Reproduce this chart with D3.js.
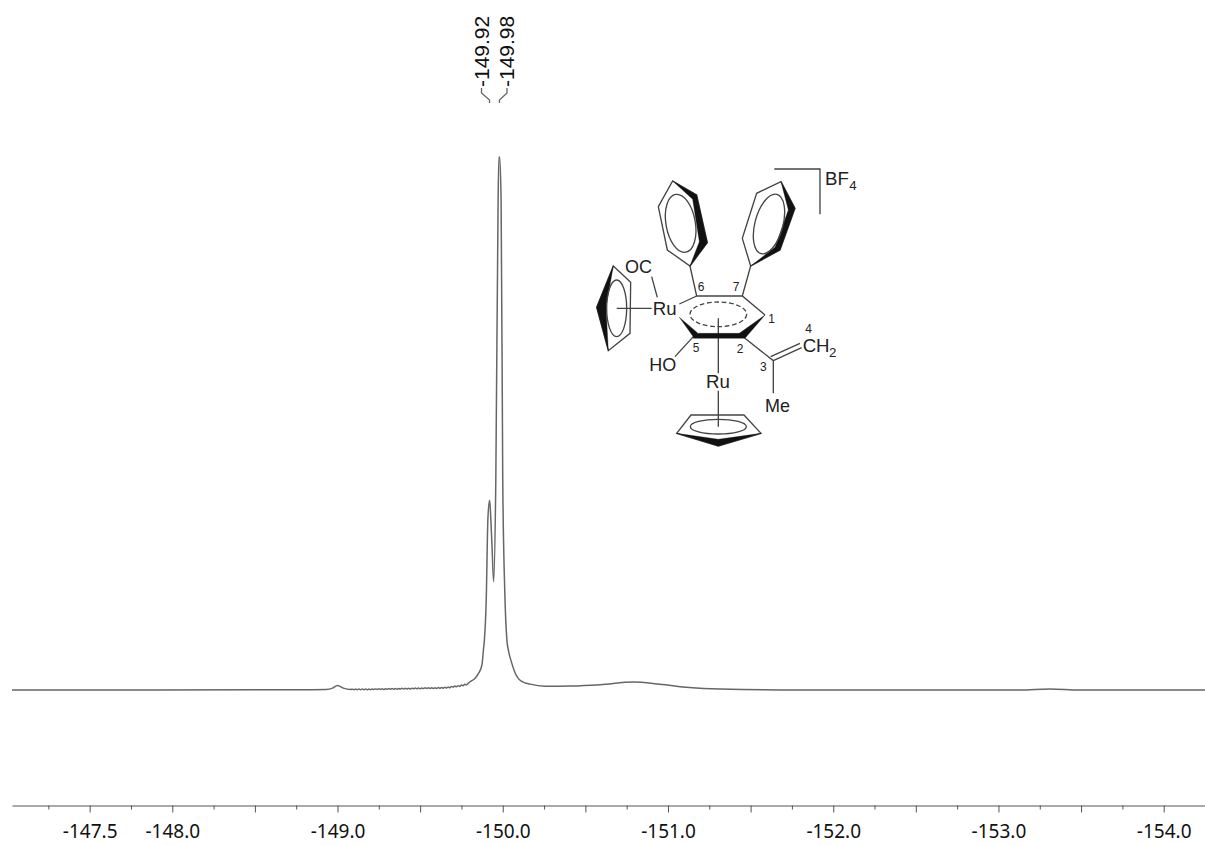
<!DOCTYPE html>
<html>
<head>
<meta charset="utf-8">
<title>19F NMR</title>
<script src="https://cdn.jsdelivr.net/npm/d3@7"></script>
<style>
  html, body { margin: 0; padding: 0; background: #fff; }
  svg { display: block; }
</style>
</head>
<body>
<svg id="mySVG" width="1205" height="845"></svg>
<script>
// Spectrum, intensity in % of the tallest peak
const shifts = [-147.03, -148.77, -148.93, -148.97, -149.00, -149.035, -149.08,
    -149.09, -149.10, -149.11, -149.12, -149.13, -149.14, -149.15, -149.16, -149.17, -149.18,
    -149.19, -149.20, -149.21, -149.22, -149.23, -149.24, -149.25, -149.26, -149.27, -149.28,
    -149.29, -149.30, -149.31, -149.32, -149.33, -149.34, -149.35, -149.36, -149.37, -149.38,
    -149.39, -149.40, -149.41, -149.42, -149.43, -149.44, -149.45, -149.46, -149.47, -149.48,
    -149.49, -149.50, -149.51, -149.52, -149.53, -149.54, -149.55, -149.56, -149.57, -149.58,
    -149.59, -149.60, -149.61, -149.62, -149.63, -149.64, -149.65, -149.66, -149.67, -149.68,
    -149.69, -149.70, -149.71, -149.72, -149.73, -149.74, -149.75, -149.76, -149.77, -149.78, -149.79,
    -149.80, -149.833, -149.855, -149.874, -149.883, -149.889, -149.90, -149.91, -149.92, -149.925, -149.935, -149.945,
    -149.958, -149.972, -149.977, -149.981, -149.99, -150.00, -150.012, -150.025, -150.034, -150.049, -150.075,
    -150.115, -150.166, -150.256, -150.41, -150.59, -150.79, -150.95, -151.13, -151.315, -151.8,
    -153.13, -153.31, -153.49, -154.25];
const intensity = [0, 0.03, 0.1, 0.35, 0.85, 0.35, 0.1,
    0.16, 0.04, 0.17, 0.05, 0.18, 0.05, 0.18, 0.06, 0.19, 0.06,
    0.2, 0.07, 0.2, 0.08, 0.21, 0.09, 0.22, 0.1, 0.23, 0.1,
    0.25, 0.12, 0.26, 0.13, 0.27, 0.14, 0.29, 0.16, 0.3, 0.17,
    0.32, 0.19, 0.33, 0.2, 0.34, 0.21, 0.35, 0.22, 0.36, 0.23,
    0.38, 0.25, 0.39, 0.26, 0.4, 0.27, 0.41, 0.28, 0.42, 0.29,
    0.44, 0.3, 0.46, 0.32, 0.49, 0.35, 0.52, 0.38, 0.56, 0.42,
    0.68, 0.54, 0.74, 0.6, 0.82, 0.68, 0.92, 0.8, 1.06, 0.96, 1.24,
    1.5, 2.2, 3.2, 4.7, 7.5, 9.4, 16.9, 32, 35.6, 33.8, 27, 20.3,
    39.4, 92, 100, 100, 92, 39.4, 18.8, 9.4, 7.5, 5.6, 3.2,
    1.6, 1.1, 0.7, 0.75, 1.0, 1.5, 1.1, 0.47, 0.19, 0,
    0, 0.19, 0, 0];

const majorTicks = [-147.5, -148, -148.5, -149, -149.5, -150, -150.5, -151, -151.5, -152, -152.5, -153, -153.5, -154];
const minorTicks = [-147.25, -147.75, -148.25, -148.75, -149.25, -149.75, -150.25, -150.75, -151.25, -151.75, -152.25, -152.75, -153.25, -153.75, -154.25];
const tickLabels = [-147.5, -148, -149, -150, -151, -152, -153, -154];
const peakLabels = [-149.92, -149.98];

const svg = d3.select("#mySVG");

const x = d3.scaleLinear().domain([-147.03, -154.25]).range([12, 1205]);
const y = d3.scaleLinear().domain([0, 100]).range([690, 157]);

// Spectrum trace
const line = d3.line()
    .curve(d3.curveMonotoneX)
    .x(d => x(d[0]))
    .y(d => y(d[1]));

svg.append("path")
    .datum(d3.zip(shifts, intensity))
    .attr("d", line)
    .attr("fill", "none")
    .attr("stroke", "#666")
    .attr("stroke-width", 1.5)
    .attr("stroke-linejoin", "round");

// Axis, minor ticks first so the long ones sit over them
const axisY = 805.5;
svg.append("g")
    .attr("transform", `translate(0,${axisY})`)
    .call(d3.axisBottom(x).tickValues(minorTicks).tickSize(4).tickSizeOuter(0).tickFormat(""))
    .call(g => g.selectAll("line,path").attr("stroke", "#555"));

svg.append("g")
    .attr("transform", `translate(0,${axisY})`)
    .call(d3.axisBottom(x).tickValues(majorTicks).tickSize(7).tickSizeOuter(0)
        .tickFormat(d => tickLabels.includes(d) ? d.toFixed(1) : ""))
    .call(g => g.select(".domain").remove())
    .call(g => g.selectAll("line").attr("stroke", "#555"))
    .call(g => g.selectAll("text")
        .attr("y", 32.5)
        .attr("dy", 0)
        .attr("fill", "#111")
        .attr("font-family", "'Noto Sans', sans-serif")
        .attr("font-size", 19));

// Peak labels with their little connectors
const labelX = [488.5, 514];
svg.selectAll(".peak-label")
    .data(peakLabels)
    .join("text")
    .attr("class", "peak-label")
    .attr("transform", (d, i) => `translate(${labelX[i]},87) rotate(-90)`)
    .attr("font-family", "'Liberation Sans', Arial, sans-serif")
    .attr("font-size", 21)
    .attr("fill", "#111")
    .text(d => d.toFixed(2));

svg.selectAll(".peak-link")
    .data(peakLabels)
    .join("path")
    .attr("class", "peak-link")
    .attr("fill", "none")
    .attr("stroke", "#666")
    .attr("stroke-width", 1.3)
    .attr("d", (d, i) => {
        const px = x(d), lx = labelX[i] - 7;
        return `M${lx},88V93L${px},100V103`;
    });

// Molecule sketch, coordinates in a 3x local frame
const mol = svg.append("g")
    .attr("transform", "translate(580,160) scale(0.3333)")
    .attr("fill", "none")
    .attr("stroke", "#444")
    .attr("stroke-width", 4);

const bonds = [
    "M583,27H720V163",
    "M330,318L350,408H487L555,465",
    "M487,408L512,318",
    "M350,408L298,432",
    "M232,412L215,350",
    "M110,445H215",
    "M340,530L285,590",
    "M495,535L580,602V700",
    "M580,602L665,563",
    "M572,590L660,550",
    "M415,475V640",
    "M415,692V800"
];
const rings = [
    "M278,63L350,105L382,248L330,318L262,270L235,140Z",
    "M603,65L645,145L600,270L512,318L487,235L530,100Z",
    "M100,318L152,367L150,520L85,572L50,442Z",
    "M290,820L333,765H492L543,820L415,858Z"
];
const wedges = [
    "M278,63L350,105L382,248L330,318L358,245L338,118Z",
    "M603,65L645,145L600,270L512,318L585,262L625,150Z",
    "M100,318L50,442L85,572L78,442Z",
    "M290,820L415,858L543,820L415,838Z",
    "M555,465L478,520L495,535Z",
    "M298,472L342,533L352,518Z",
    "M340,520H495V535H340Z"
];
const ellipses = [
    { cx: 302, cy: 190, rx: 44, ry: 88, rot: -10 },
    { cx: 567, cy: 192, rx: 42, ry: 92, rot: 15 },
    { cx: 110, cy: 445, rx: 30, ry: 85, rot: 0 },
    { cx: 415, cy: 800, rx: 84, ry: 22, rot: 0 }
];
const labels = [
    { t: "BF", x: 735, y: 75, s: 56 }, { t: "4", x: 808, y: 90, s: 40 },
    { t: "OC", x: 135, y: 340, s: 54 }, { t: "Ru", x: 218, y: 465, s: 56 },
    { t: "HO", x: 208, y: 633, s: 54 }, { t: "Ru", x: 378, y: 685, s: 56 },
    { t: "Me", x: 555, y: 755, s: 54 }, { t: "CH", x: 668, y: 577, s: 56 },
    { t: "2", x: 747, y: 592, s: 40 },
    { t: "6", x: 353, y: 393, s: 36 }, { t: "7", x: 458, y: 393, s: 36 },
    { t: "1", x: 565, y: 490, s: 36 }, { t: "5", x: 338, y: 577, s: 36 },
    { t: "2", x: 470, y: 580, s: 36 }, { t: "3", x: 540, y: 632, s: 36 },
    { t: "4", x: 676, y: 520, s: 36 }
];

mol.selectAll(".bond").data(bonds.concat(rings)).join("path").attr("class", "bond").attr("d", d => d);
mol.selectAll(".wedge").data(wedges).join("path").attr("class", "wedge").attr("d", d => d)
    .attr("fill", "#111").attr("stroke", "#111").attr("stroke-width", 1);
mol.selectAll("ellipse.ring").data(ellipses).join("ellipse").attr("class", "ring")
    .attr("rx", d => d.rx).attr("ry", d => d.ry)
    .attr("transform", d => `translate(${d.cx},${d.cy}) rotate(${d.rot})`);
mol.append("ellipse")
    .attr("cx", 415).attr("cy", 463).attr("rx", 85).attr("ry", 37)
    .attr("stroke-dasharray", "14 8");
mol.selectAll("text").data(labels).join("text")
    .attr("x", d => d.x).attr("y", d => d.y)
    .attr("font-size", d => d.s)
    .attr("font-family", "'Liberation Sans', Arial, sans-serif")
    .attr("fill", "#222").attr("stroke", "none")
    .text(d => d.t);
</script>
</body>
</html>
